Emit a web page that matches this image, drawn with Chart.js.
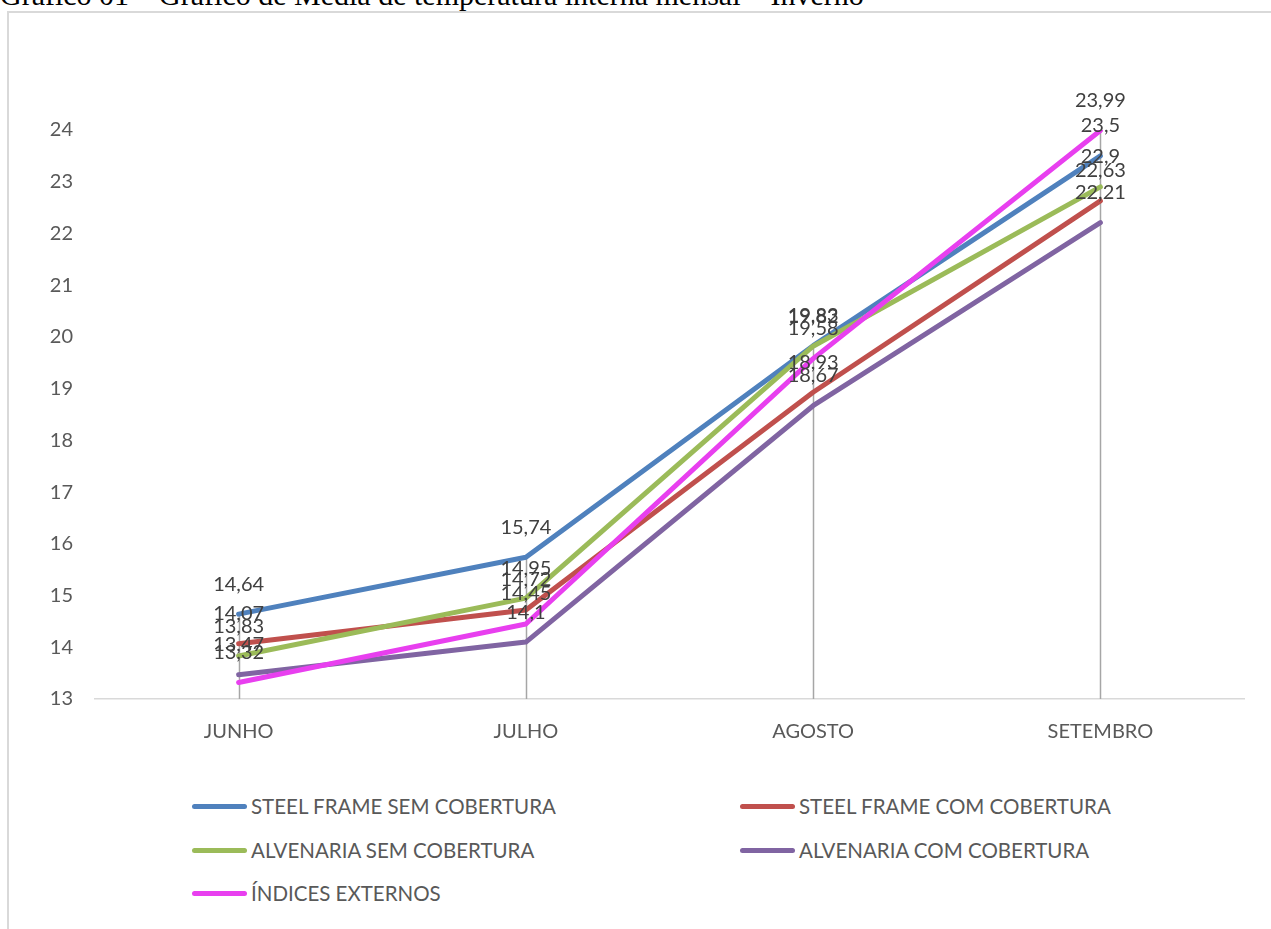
<!DOCTYPE html>
<html>
<head>
<meta charset="utf-8">
<script src="https://cdn.jsdelivr.net/npm/chart.js@4/dist/chart.umd.min.js"></script>
<style>
  body { margin: 0; background: #fff; width: 1271px; height: 929px; overflow: hidden; position: relative; }
  #title { position: absolute; left: 0; top: -20px; font-family: "Liberation Serif", "Times New Roman", serif; font-size: 30px; line-height: 1; color: #000; white-space: nowrap; }
  #frame { position: absolute; left: 7px; top: 11px; width: 1280px; height: 940px; border: 2px solid #D9D9D9; box-sizing: border-box; background: transparent; }
  #wrap { position: absolute; left: 0; top: 0; width: 1271px; height: 770px; }
  .leg { position: absolute; height: 20px; font-family: Lato, "Open Sans", sans-serif; font-size: 20.5px; color: #595959; white-space: nowrap; }
  .leg .sym { position: absolute; left: 0; top: 8px; width: 55px; height: 5px; border-radius: 3px; }
  .leg .txt { position: absolute; left: 59px; top: -2px; line-height: 24px; }
</style>
</head>
<body>
<div id="title">Gráfico 01 – Gráfico de Média de temperatura interna mensal – Inverno</div>
<div id="frame"></div>
<div id="wrap"><canvas id="chart"></canvas></div>
<div id="legend"></div>
<script>
// --- data ---
const months = ['JUNHO', 'JULHO', 'AGOSTO', 'SETEMBRO'];
const seriesNames = [
    'STEEL FRAME SEM COBERTURA',
    'STEEL FRAME COM COBERTURA',
    'ALVENARIA SEM COBERTURA',
    'ALVENARIA COM COBERTURA',
    'ÍNDICES EXTERNOS'
];
const steelSem = [14.64, 15.74, 19.83, 23.5];
const steelCom = [14.07, 14.72, 18.93, 22.63];
const alvSem = [13.83, 14.95, 19.82, 22.9];
const alvCom = [13.47, 14.1, 18.67, 22.21];
const externos = [13.32, 14.45, 19.58, 23.99];
const yTicks = [13, 14, 15, 16, 17, 18, 19, 20, 21, 22, 23, 24];

const seriesValues = [steelSem, steelCom, alvSem, alvCom, externos];
const colors = ['#4F81BD', '#C0504D', '#9BBB59', '#8064A2', '#E83FEF'];
const font = 'Lato, "Open Sans", sans-serif';

const fmt = v => String(v).replace('.', ',');

// gray drop lines from the highest point down to the axis
const dropLines = {
    id: 'dropLines',
    beforeDatasetsDraw(chart) {
        const { ctx, scales: { x, y } } = chart;
        ctx.save();
        ctx.strokeStyle = '#A6A6A6';
        ctx.lineWidth = 1.5;
        months.forEach((m, i) => {
            const top = Math.max(...seriesValues.map(s => s[i]));
            const px = Math.round(x.getPixelForValue(i)) + 0.5;
            ctx.beginPath();
            ctx.moveTo(px, y.getPixelForValue(top));
            ctx.lineTo(px, y.bottom);
            ctx.stroke();
        });
        ctx.restore();
    }
};

// value labels above each point
const valueLabels = {
    id: 'valueLabels',
    afterDatasetsDraw(chart) {
        const { ctx } = chart;
        ctx.save();
        ctx.font = '20px ' + font;
        ctx.fillStyle = '#404040';
        ctx.textAlign = 'center';
        ctx.textBaseline = 'middle';
        chart.data.datasets.forEach((ds, di) => {
            const meta = chart.getDatasetMeta(di);
            meta.data.forEach((pt, i) => {
                ctx.fillText(fmt(ds.data[i]), pt.x, pt.y - 30);
            });
        });
        ctx.restore();
    }
};

const chart = new Chart(document.getElementById('chart'), {
    type: 'line',
    data: {
        labels: months,
        datasets: seriesNames.map((name, i) => ({
            label: name,
            data: seriesValues[i],
            borderColor: colors[i],
            backgroundColor: colors[i],
            borderWidth: 5,
            borderCapStyle: 'round',
            borderJoinStyle: 'round',
            pointRadius: 0,
            tension: 0,
            order: seriesNames.length - i
        }))
    },
    options: {
        responsive: true,
        maintainAspectRatio: false,
        animation: false,
        events: [],
        layout: { padding: { top: 130, right: 27, left: 0, bottom: 0 } },
        plugins: { legend: { display: false }, tooltip: { enabled: false } },
        scales: {
            x: {
                offset: true,
                afterFit: s => { s.height = 71; },
                grid: { display: false, drawTicks: false },
                border: { display: true, color: '#D9D9D9', width: 1.5 },
                ticks: { color: '#595959', font: { family: font, size: 20 }, padding: 21 }
            },
            y: {
                min: 13,
                max: 24,
                afterFit: s => { s.width = 95; },
                afterBuildTicks: s => { s.ticks = yTicks.map(v => ({ value: v })); },
                grid: { display: false, drawTicks: false },
                border: { display: false },
                ticks: { color: '#595959', font: { family: font, size: 20 }, padding: 22 }
            }
        }
    },
    plugins: [dropLines, valueLabels]
});

// legend in two columns
const legendEl = document.getElementById('legend');
const legendPos = [[192, 796], [740, 796], [192, 840], [740, 840], [192, 883]];
seriesNames.forEach((name, i) => {
    const item = document.createElement('div');
    item.className = 'leg';
    item.style.left = legendPos[i][0] + 'px';
    item.style.top = legendPos[i][1] + 'px';
    item.innerHTML = `<div class="sym" style="background:${colors[i]}"></div><div class="txt">${name}</div>`;
    legendEl.appendChild(item);
});
</script>
</body>
</html>
